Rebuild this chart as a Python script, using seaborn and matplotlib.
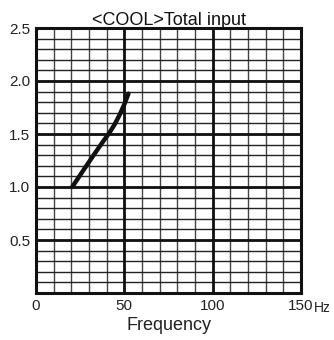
import matplotlib
matplotlib.use('Agg')
import matplotlib.pyplot as plt
import seaborn as sns
import numpy as np
import pandas as pd

freq = [20.5, 26.5, 33, 38, 41.5, 44.5, 47.3, 50, 52.3]
total_input = [1.00, 1.15, 1.31, 1.43, 1.51, 1.59, 1.68, 1.78, 1.88]

x_ticks = [0, 50, 100, 150]
y_ticks = [0.5, 1.0, 1.5, 2.0, 2.5]

sns.set_style('white')
plt.rcParams['font.family'] = ['Liberation Sans', 'DejaVu Sans']

fig = plt.figure(figsize=(3.34, 3.4), dpi=100)
ax = fig.add_axes([36 / 334, 1 - 293 / 340, 265 / 334, 265 / 340])

# minor grid
for xv in np.arange(10, 150, 10):
    ax.axvline(xv, color='#444444', lw=1.0, zorder=1)
for yv in np.arange(0.1, 2.5, 0.1):
    ax.axhline(yv, color='#222222', lw=1.0, zorder=1)
# major grid
for xv in [50, 100]:
    ax.axvline(xv, color='#111111', lw=2.0, zorder=2)
for yv in [0.5, 1.0, 1.5, 2.0]:
    ax.axhline(yv, color='#111111', lw=2.0, zorder=2)

df = pd.DataFrame({'Frequency': freq, 'Total input': total_input})
sns.lineplot(data=df, x='Frequency', y='Total input', ax=ax, color='#111111',
             lw=3.2, zorder=5)

ax.set_xlim(0, 150)
ax.set_ylim(0, 2.5)
ax.set_xticks(x_ticks)
ax.set_yticks(y_ticks)
ax.set_xticklabels([str(v) for v in x_ticks])
ax.set_yticklabels(['%.1f' % v for v in y_ticks])
ax.tick_params(length=0, labelsize=11, colors='#222222', pad=4)
for s in ax.spines.values():
    s.set_visible(True)
    s.set_linewidth(2.2)
    s.set_color('#111111')

ax.set_xlabel('Frequency', fontsize=13, color='#222222', labelpad=3)
ax.set_ylabel('')
ax.set_title('<COOL>Total input', fontsize=13, color='#111111', pad=2)
ax.text(1.05, -0.03, 'Hz', transform=ax.transAxes, fontsize=10, va='top', ha='left',
        color='#222222')

fig.savefig('out.png', dpi=100)
